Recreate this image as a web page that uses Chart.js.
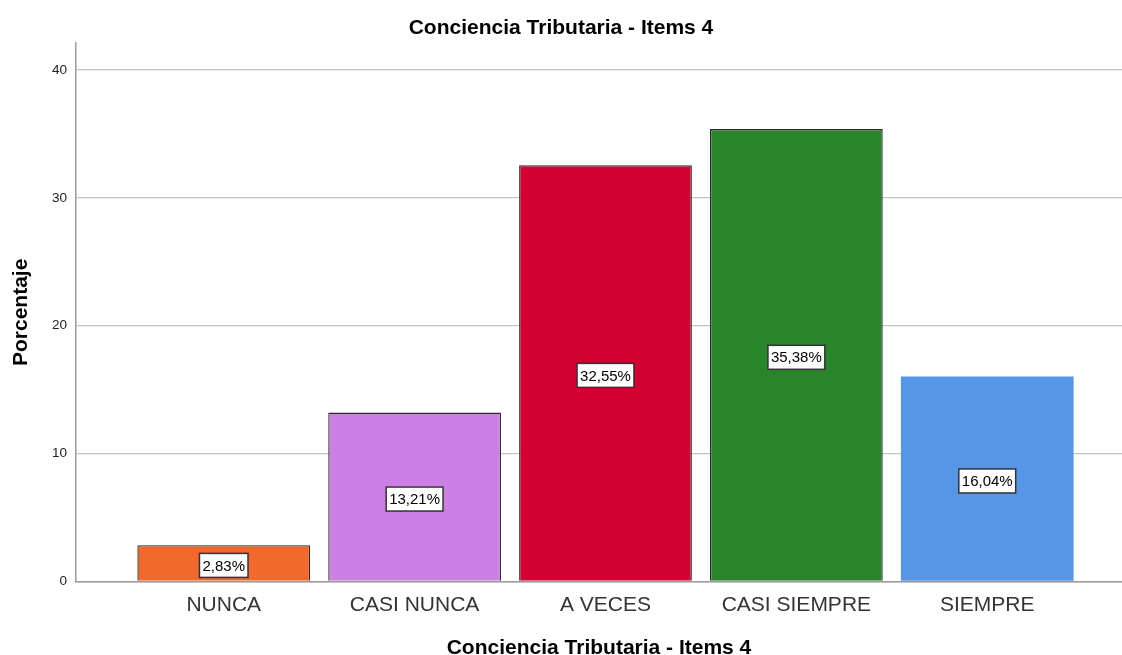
<!DOCTYPE html>
<html>
<head>
<meta charset="utf-8">
<script src="https://cdn.jsdelivr.net/npm/chart.js@4/dist/chart.umd.min.js"></script>
<style>
  html, body { margin: 0; padding: 0; background: #fff; }
  #wrap { width: 1122px; height: 655px; position: relative; }
</style>
</head>
<body>
<div id="wrap"><canvas id="c" width="1122" height="655"></canvas></div>
<script>
const categories = ['NUNCA', 'CASI NUNCA', 'A VECES', 'CASI SIEMPRE', 'SIEMPRE'];
const percentages = [2.83, 13.21, 32.55, 35.38, 16.04];
const yTicks = [0, 10, 20, 30, 40];
const chartTitle = 'Conciencia Tributaria - Items 4';
const xTitle = 'Conciencia Tributaria - Items 4';
const yTitle = 'Porcentaje';

const barColors = ['#F2692B', '#CC80E3', '#D50032', '#288529', '#5596E6'];
const barBorders = ['#2a2a2a', '#2a2a2a', '#2a2a2a', '#2a2a2a', '#5596E6'];

const FONT = "'Liberation Sans', Arial, sans-serif";

const labelPlugin = {
  id: 'valueBoxes',
  afterDatasetsDraw(chart) {
    const ctx = chart.ctx;
    const meta = chart.getDatasetMeta(0);
    const yScale = chart.scales.y;
    ctx.save();
    ctx.font = '15px ' + FONT;
    ctx.textAlign = 'center';
    ctx.textBaseline = 'middle';
    meta.data.forEach((el, i) => {
      const v = percentages[i];
      const txt = v.toFixed(2).replace('.', ',') + '%';
      const w = ctx.measureText(txt).width + 6;
      const h = 24;
      const cx = el.x;
      const cy = yScale.getPixelForValue(v / 2) + 2;
      ctx.fillStyle = '#ffffff';
      ctx.fillRect(cx - w / 2, cy - h / 2, w, h);
      ctx.lineWidth = 1.5;
      ctx.strokeStyle = '#333333';
      ctx.strokeRect(cx - w / 2, cy - h / 2, w, h);
      ctx.fillStyle = '#000000';
      ctx.fillText(txt, cx, cy + 1);
    });
    ctx.restore();
  }
};

new Chart(document.getElementById('c'), {
  type: 'bar',
  data: {
    datasets: [{
      data: percentages.map((v, i) => ({ x: i, y: v })),
      backgroundColor: barColors,
      borderColor: barBorders,
      borderWidth: [1.3, 1.3, 1.3, 1.3, 0],
      categoryPercentage: 1,
      barPercentage: 0.905
    }]
  },
  options: {
    responsive: false,
    animation: false,
    layout: { padding: 0 },
    plugins: {
      legend: { display: false },
      tooltip: { enabled: false },
      title: {
        display: true,
        text: chartTitle,
        color: '#000',
        font: { family: FONT, size: 21, weight: 'bold', lineHeight: 1.2 },
        padding: { top: 16, bottom: 2 }
      }
    },
    scales: {
      x: {
        type: 'linear',
        offset: false,
        min: -0.774,
        max: 4.706,
        grid: { display: false, drawTicks: false, offset: false },
        border: { display: true, color: '#9a9a9a', width: 1.5 },
        ticks: {
          stepSize: 1,
          includeBounds: false,
          autoSkip: false,
          maxRotation: 0,
          padding: 11,
          color: '#333',
          font: { family: FONT, size: 21, lineHeight: 1.2 },
          callback: (v) => (Number.isInteger(v) && categories[v] !== undefined) ? categories[v] : ''
        },
        title: {
          display: true,
          text: xTitle,
          color: '#000',
          font: { family: FONT, size: 21, weight: 'bold', lineHeight: 0.62 },
          padding: 0
        },
        afterFit(scale) { scale.height = 73.5; }
      },
      y: {
        min: 0,
        max: 42.1,
        grid: { color: '#c4c4c4', lineWidth: 1.3, drawTicks: false },
        border: { display: true, color: '#9a9a9a', width: 1.5 },
        ticks: {
          includeBounds: false,
          stepSize: 10,
          padding: 9,
          color: '#222',
          font: { family: FONT, size: 13.5 },
          callback: (v) => yTicks.includes(v) ? String(v) : ''
        },
        title: {
          display: true,
          text: yTitle,
          color: '#000',
          font: { family: FONT, size: 21, weight: 'bold', lineHeight: 1.2 },
          padding: { top: 9, bottom: 0 }
        },
        afterFit(scale) { scale.width = 76; }
      }
    }
  },
  plugins: [labelPlugin]
});
</script>
</body>
</html>
